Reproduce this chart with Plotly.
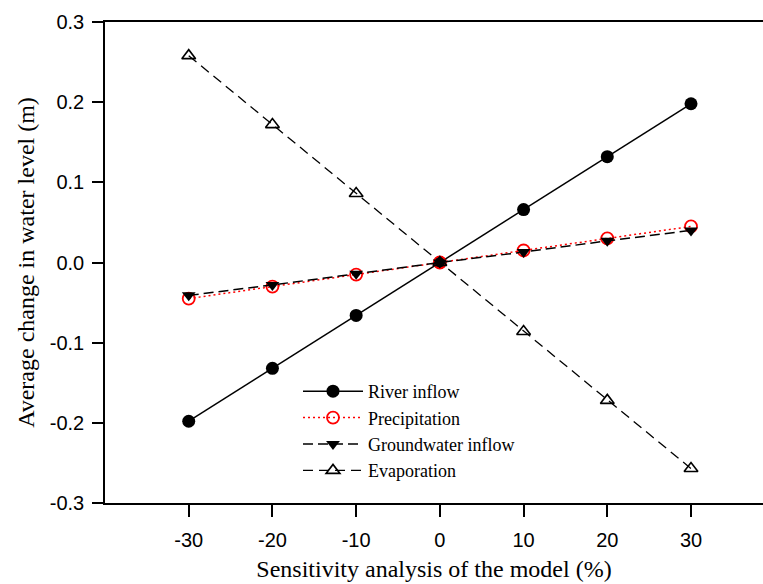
import plotly.graph_objects as go

x_pct = [-30, -20, -10, 0, 10, 20, 30]
river_inflow = [-0.198, -0.132, -0.066, 0.0, 0.066, 0.132, 0.198]
precipitation = [-0.045, -0.030, -0.015, 0.0, 0.015, 0.030, 0.045]
groundwater_inflow = [-0.041, -0.028, -0.014, 0.0, 0.013, 0.027, 0.040]
evaporation = [0.258, 0.172, 0.086, 0.0, -0.086, -0.172, -0.257]

x_ticks = [-30, -20, -10, 0, 10, 20, 30]
x_ticktext = ["-30", "-20", "-10", "0", "10", "20", "30"]
y_ticks = [-0.3, -0.2, -0.1, 0.0, 0.1, 0.2, 0.3]
y_ticktext = ["-0.3", "-0.2", "-0.1", "0.0", "0.1", "0.2", "0.3"]

fig = go.Figure()
fig.add_trace(go.Scatter(
    x=x_pct, y=river_inflow, name="River inflow", mode="lines+markers",
    line=dict(color="black", width=1.5),
    marker=dict(symbol="circle", size=13, color="black")))
fig.add_trace(go.Scatter(
    x=x_pct, y=precipitation, name="Precipitation", mode="lines+markers",
    line=dict(color="#ff0000", width=1.5, dash="2px,3px"),
    marker=dict(symbol="circle-open", size=12, color="#ff0000", line=dict(width=1.8))))
fig.add_trace(go.Scatter(
    x=x_pct, y=groundwater_inflow, name="Groundwater inflow", mode="lines+markers",
    line=dict(color="black", width=1.5, dash="10px,5px"),
    marker=dict(symbol="triangle-down", size=12, color="black")))
fig.add_trace(go.Scatter(
    x=x_pct, y=evaporation, name="Evaporation", mode="lines+markers",
    line=dict(color="black", width=1.3, dash="10px,6px"),
    marker=dict(symbol="triangle-up-open", size=12, color="black", line=dict(width=1.6))))

fig.update_layout(
    width=763, height=584,
    margin=dict(l=105, r=0, t=22, b=81),
    plot_bgcolor="white", paper_bgcolor="white",
    font=dict(family="Liberation Sans, Arial", color="black"),
    legend=dict(
        x=(298 - 105) / 658, y=(503 - 373) / 481, xanchor="left", yanchor="top",
        bgcolor="rgba(0,0,0,0)", borderwidth=0, itemwidth=60,
        font=dict(family="Liberation Serif, Times New Roman", size=18, color="black"),
        tracegroupgap=0),
    showlegend=True,
)
fig.update_xaxes(
    range=[-40, 38.6], tickmode="array", tickvals=x_ticks, ticktext=x_ticktext,
    showgrid=False, zeroline=False, showline=True, linecolor="black", linewidth=1.5,
    mirror=True, ticks="outside", ticklen=12, tickwidth=1.5, tickcolor="black",
    tickfont=dict(family="Liberation Sans, Arial", size=20, color="black"),
    ticklabelstandoff=6,
    title=dict(text="Sensitivity analysis of the model (%)",
               font=dict(family="Liberation Serif, Times New Roman", size=24, color="black"),
               standoff=10),
)
fig.update_yaxes(
    range=[-0.3, 0.3], tickmode="array", tickvals=y_ticks, ticktext=y_ticktext,
    showgrid=False, zeroline=False, showline=True, linecolor="black", linewidth=1.5,
    mirror=False, ticks="outside", ticklen=11, tickwidth=1.5, tickcolor="black",
    tickfont=dict(family="Liberation Sans, Arial", size=20, color="black"),
    ticklabelstandoff=4,
    title=dict(text="Average change in water level (m)",
               font=dict(family="Liberation Serif, Times New Roman", size=24, color="black"),
               standoff=8),
)

fig.write_html("out.html")
